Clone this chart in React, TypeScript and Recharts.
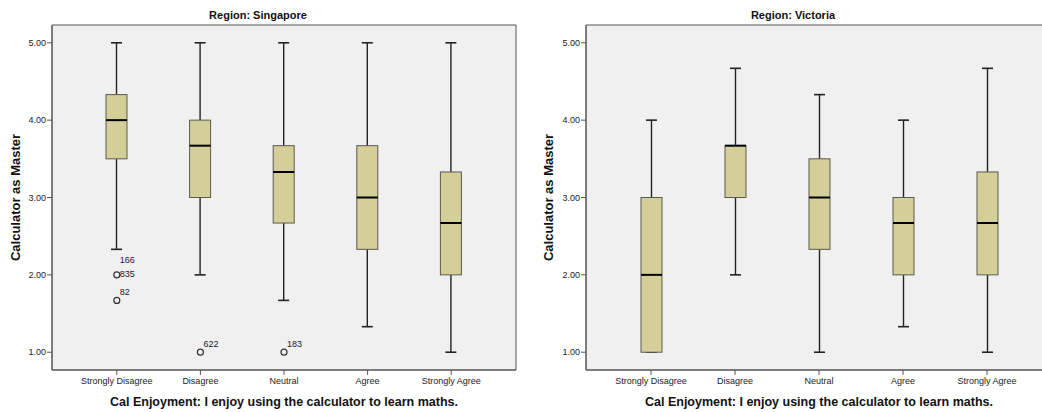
import React from 'react';
import { ComposedChart, Bar, Scatter, XAxis, YAxis, CartesianGrid } from 'recharts';

// ---------- data ----------
const categories = ['Strongly Disagree', 'Disagree', 'Neutral', 'Agree', 'Strongly Agree'];
const yTicks = [1, 2, 3, 4, 5];

// Region: Singapore
const sgMin = [2.33, 2.0, 1.67, 1.33, 1.0];
const sgQ1 = [3.5, 3.0, 2.67, 2.33, 2.0];
const sgMedian = [4.0, 3.67, 3.33, 3.0, 2.67];
const sgQ3 = [4.33, 4.0, 3.67, 3.67, 3.33];
const sgMax = [5.0, 5.0, 5.0, 5.0, 5.0];
const sgOutlierA: (number | null)[] = [2.0, 1.0, 1.0, null, null];
const sgOutlierALabels: string[][] = [['166', '835'], ['622'], ['183'], [], []];
const sgOutlierB: (number | null)[] = [1.67, null, null, null, null];
const sgOutlierBLabels: string[][] = [['82'], [], [], [], []];

// Region: Victoria
const vicMin = [1.0, 2.0, 1.0, 1.33, 1.0];
const vicQ1 = [1.0, 3.0, 2.33, 2.0, 2.0];
const vicMedian = [2.0, 3.67, 3.0, 2.67, 2.67];
const vicQ3 = [3.0, 3.67, 3.5, 3.0, 3.33];
const vicMax = [4.0, 4.67, 4.33, 4.0, 4.67];
const vicOutlierA: (number | null)[] = [null, null, null, null, null];
const vicOutlierALabels: string[][] = [[], [], [], [], []];
const vicOutlierB: (number | null)[] = [null, null, null, null, null];
const vicOutlierBLabels: string[][] = [[], [], [], [], []];

// ---------- helpers ----------
type Row = {
  cat: string;
  min: number; q1: number; median: number; q3: number; max: number;
  oA: number | null; oAL: string[];
  oB: number | null; oBL: string[];
};

function buildRows(
  min: number[], q1: number[], med: number[], q3: number[], max: number[],
  oA: (number | null)[], oAL: string[][], oB: (number | null)[], oBL: string[][]
): Row[] {
  return categories.map((cat, i) => ({
    cat, min: min[i], q1: q1[i], median: med[i], q3: q3[i], max: max[i],
    oA: oA[i], oAL: oAL[i], oB: oB[i], oBL: oBL[i],
  }));
}

const sgRows = buildRows(sgMin, sgQ1, sgMedian, sgQ3, sgMax, sgOutlierA, sgOutlierALabels, sgOutlierB, sgOutlierBLabels);
const vicRows = buildRows(vicMin, vicQ1, vicMedian, vicQ3, vicMax, vicOutlierA, vicOutlierALabels, vicOutlierB, vicOutlierBLabels);

const FONT = '"Liberation Sans", Arial, Helvetica, sans-serif';
const Y_DOMAIN: [number, number] = [0.77, 5.23];
const BOX_FILL = '#d4cf98';
const BOX_STROKE = '#5a5a50';
const AXIS = '#555555';

const BoxShape = (props: any) => {
  const { x, y, width, height, payload } = props;
  if (payload == null || x == null || y == null) return <g />;
  const { min, max, q1, q3, median } = payload as Row;
  const top = Math.min(y, y + height);
  const h = Math.abs(height);
  const k = h / (max - min);
  const py = (v: number) => top + (max - v) * k;
  const cx = x + width / 2;
  const cap = 5.5;
  return (
    <g>
      <line x1={cx} x2={cx} y1={py(max)} y2={py(q3)} stroke="#222" strokeWidth={1.4} />
      <line x1={cx} x2={cx} y1={py(q1)} y2={py(min)} stroke="#222" strokeWidth={1.4} />
      <line x1={cx - cap} x2={cx + cap} y1={py(max)} y2={py(max)} stroke="#222" strokeWidth={1.6} />
      <line x1={cx - cap} x2={cx + cap} y1={py(min)} y2={py(min)} stroke="#222" strokeWidth={1.6} />
      <rect x={x} y={py(q3)} width={width} height={Math.max(0, py(q1) - py(q3))} fill={BOX_FILL} stroke={BOX_STROKE} strokeWidth={1} />
      <line x1={x} x2={x + width} y1={py(median)} y2={py(median)} stroke="#000" strokeWidth={2} />
    </g>
  );
};

const makeOutlier = (valueKey: 'oA' | 'oB', labelKey: 'oAL' | 'oBL') => (props: any) => {
  const { cx, cy, payload } = props;
  const labels: string[] = payload ? payload[labelKey] : [];
  if (!payload || payload[valueKey] == null || cx == null || cy == null || !isFinite(cy) || !labels || labels.length === 0) {
    return <g />;
  }
  const n = labels.length;
  return (
    <g>
      <circle cx={cx} cy={cy} r={3} fill="none" stroke="#333" strokeWidth={1.2} />
      {labels.map((t, i) => {
        const ty = n > 1 ? cy + 2 - (n - 1 - i) * 14 : cy - 5;
        return (
          <text key={i} x={cx + 3} y={ty} fontSize={9} fontFamily={FONT} fill="#222">
            {t}
          </text>
        );
      })}
    </g>
  );
};

const YLabel = (xOff: number) => (props: any) => {
  const vb = props.viewBox || {};
  const cx = (vb.x ?? 0) + xOff;
  const cy = (vb.y ?? 0) + (vb.height ?? 0) / 2;
  return (
    <text x={cx} y={cy} transform={`rotate(-90, ${cx}, ${cy})`} textAnchor="middle" dominantBaseline="central"
      fontSize={13} fontWeight="bold" fontFamily={FONT} fill="#111">
      Calculator as Master
    </text>
  );
};

const XLabel = (props: any) => {
  const vb = props.viewBox || {};
  const cx = (vb.x ?? 0) + (vb.width ?? 0) / 2;
  const cy = (vb.y ?? 0) + 36;
  return (
    <text x={cx} y={cy} textAnchor="middle" fontSize={12.5} fontWeight="bold" fontFamily={FONT} fill="#111">
      Cal Enjoyment: I enjoy using the calculator to learn maths.
    </text>
  );
};

const frameH = (p: any) => [p.offset.top, p.offset.top + p.offset.height];
const frameV = (p: any) => [p.offset.left, p.offset.left + p.offset.width];

type PanelProps = { rows: Row[]; width: number; yAxisWidth: number; rightMargin: number; yLabelX: number };

const Panel = ({ rows, width, yAxisWidth, rightMargin, yLabelX }: PanelProps) => (
  <ComposedChart width={width} height={412} data={rows} margin={{ top: 25, right: rightMargin, bottom: 0, left: 0 }}>
    <CartesianGrid
      fill="#f0f0f0"
      stroke={AXIS}
      strokeWidth={1}
      horizontalCoordinatesGenerator={frameH}
      verticalCoordinatesGenerator={frameV}
      syncWithTicks={false}
    />
    <XAxis
      dataKey="cat"
      type="category"
      interval={0}
      height={42}
      padding={{ left: 23, right: 23 }}
      tickSize={5}
      tickMargin={3}
      tick={{ fontSize: 9, fontFamily: FONT, fill: '#222' }}
      tickLine={{ stroke: AXIS }}
      axisLine={{ stroke: AXIS }}
      label={{ content: XLabel }}
    />
    <YAxis
      type="number"
      domain={Y_DOMAIN}
      ticks={yTicks}
      allowDataOverflow
      width={yAxisWidth}
      tickFormatter={(v: number) => v.toFixed(2)}
      tickSize={5}
      tickMargin={1}
      tick={{ fontSize: 9, fontFamily: FONT, fill: '#222' }}
      tickLine={{ stroke: AXIS }}
      axisLine={{ stroke: AXIS }}
      label={{ content: YLabel(yLabelX) }}
    />
    <Bar dataKey={(d: Row) => [d.min, d.max]} barSize={21} shape={BoxShape} isAnimationActive={false} />
    <Scatter dataKey="oA" shape={makeOutlier('oA', 'oAL')} isAnimationActive={false} />
    <Scatter dataKey="oB" shape={makeOutlier('oB', 'oBL')} isAnimationActive={false} />
  </ComposedChart>
);

const titleStyle: React.CSSProperties = {
  position: 'absolute',
  top: 8,
  fontFamily: FONT,
  fontSize: 11,
  fontWeight: 'bold',
  color: '#111',
  transform: 'translateX(-50%)',
  whiteSpace: 'nowrap',
  lineHeight: '14px',
};

export default function App() {
  return (
    <div style={{ position: 'absolute', left: 0, top: 0, width: 1042, height: 412, overflow: 'hidden', background: '#fff' }}>
      <div style={{ position: 'absolute', left: 0, top: 0 }}>
        <Panel rows={sgRows} width={520} yAxisWidth={52} rightMargin={4} yLabelX={15} />
      </div>
      <div style={{ position: 'absolute', left: 520, top: 0 }}>
        <Panel rows={vicRows} width={532} yAxisWidth={66} rightMargin={0} yLabelX={28} />
      </div>
      <div style={{ ...titleStyle, left: 258 }}>Region: Singapore</div>
      <div style={{ ...titleStyle, left: 793 }}>Region: Victoria</div>
    </div>
  );
}
